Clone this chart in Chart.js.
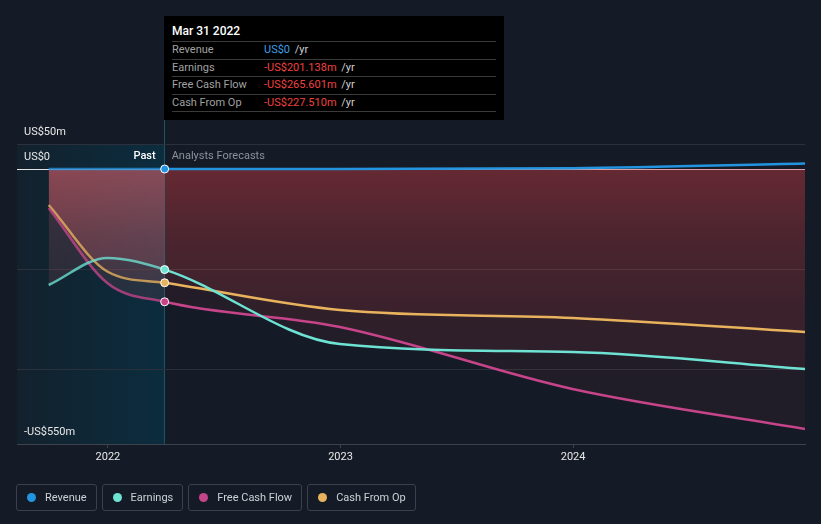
<!DOCTYPE html>
<html><head><meta charset="utf-8">
<script src="https://cdn.jsdelivr.net/npm/chart.js@4.4.1/dist/chart.umd.min.js"></script>
<style>
html,body{margin:0;padding:0;background:#151b26;}
#wrap{position:relative;width:821px;height:524px;overflow:hidden;font-family:Roboto,'Noto Sans',sans-serif;}
#c{position:absolute;left:0;top:0;}
#tip{position:absolute;left:164px;top:16px;width:340px;height:104px;background:#000;}
#tip .title{position:absolute;left:8px;top:8px;font-size:12px;line-height:14px;color:#fff;font-weight:500;}
#tip .rows{position:absolute;left:8px;top:25px;width:324px;border-bottom:1px solid #3a3a3a;}
#tip .row{position:relative;height:17.5px;box-sizing:border-box;border-top:1px solid #3a3a3a;font-size:11px;line-height:16px;}
#tip .lab{position:absolute;left:0;top:0;color:#a0a0a0;}
#tip .val{position:absolute;left:92px;top:0;white-space:nowrap;}
#tip .yr{color:#cfcfcf;margin-left:2px;}
#legend{position:absolute;left:16px;top:484px;display:flex;}
#legend .item{height:27px;box-sizing:border-box;border:1px solid #3a404c;border-radius:3px;padding:0 9px 0 28px;position:relative;font-size:11px;line-height:25px;color:#cdd1d7;margin-right:5px;white-space:nowrap;}
#legend .dot{position:absolute;left:10px;top:8px;width:9px;height:9px;border-radius:50%;}
</style>
</head><body>
<div id="wrap">
<canvas id="c" width="821" height="524"></canvas>
<div id="tip"></div>
<div id="legend"></div>
</div>
<script>
// ---- data ----
const dates = ['2021-09-30','2021-12-31','2022-03-31','2022-12-31','2023-12-31','2024-12-31'];
const revenue = [0, 0, 0, 0, 1.5, 11];
const earnings = [-232, -178, -201.138, -350, -366, -400];
const freeCashFlow = [-78, -228, -265.601, -316, -440, -520];
const cashFromOp = [-72, -205, -227.51, -282, -298, -326];
const seriesNames = ['Revenue', 'Earnings', 'Free Cash Flow', 'Cash From Op'];
const seriesColors = ['#2394df', '#6ee3d4', '#c6448a', '#e9b35d'];
const xTicks = [2022, 2023, 2024];
const yTicks = [50, 0, -200, -400, -550];
const yTickLabels = ['US$50m', 'US$0', '', '', '-US$550m'];
const pastIndex = 2;
const tooltipTitle = 'Mar 31 2022';
const tooltipValues = ['US$0', '-US$201.138m', '-US$265.601m', '-US$227.510m'];
const pastLabel = 'Past';
const forecastLabel = 'Analysts Forecasts';

function toYear(s){
  const d = new Date(s + 'T00:00:00Z');
  const y = d.getUTCFullYear();
  const a = Date.UTC(y,0,1), b = Date.UTC(y+1,0,1);
  return y + (d.getTime() - a) / (b - a);
}
const xs = dates.map(toYear);
const seriesValues = [revenue, earnings, freeCashFlow, cashFromOp];

function hexA(hex, a){
  const n = parseInt(hex.slice(1),16);
  return 'rgba(' + (n>>16&255) + ',' + (n>>8&255) + ',' + (n&255) + ',' + a + ')';
}

let gradCache = {};
function fillGrad(chart, past){
  const a = chart.chartArea;
  if (!a) return 'rgba(0,0,0,0)';
  const y0 = chart.scales.y.getPixelForValue(0);
  const key = (past?'p':'f') + y0 + '_' + a.bottom;
  if (gradCache[key]) return gradCache[key];
  const g = chart.ctx.createLinearGradient(0, y0, 0, a.bottom);
  if (past){
    g.addColorStop(0, 'rgba(235,100,110,0.235)');
    g.addColorStop(0.25, 'rgba(235,100,110,0.15)');
    g.addColorStop(0.5, 'rgba(235,100,110,0.10)');
    g.addColorStop(1, 'rgba(235,100,110,0.08)');
  } else {
    g.addColorStop(0, 'rgba(218,63,70,0.16)');
    g.addColorStop(0.25, 'rgba(218,63,70,0.10)');
    g.addColorStop(0.5, 'rgba(218,63,70,0.07)');
    g.addColorStop(1, 'rgba(218,63,70,0.06)');
  }
  gradCache[key] = g;
  return g;
}

const datasets = seriesNames.map((name, i) => ({
  label: name,
  data: xs.map((x, j) => ({x: x, y: seriesValues[i][j]})),
  borderColor: seriesColors[i],
  backgroundColor: (ctx) => fillGrad(ctx.chart, false),
  borderWidth: 2.5,
  fill: i === 0 ? false : 'origin',
  cubicInterpolationMode: 'monotone',
  pointRadius: (ctx) => ctx.dataIndex === pastIndex ? 4 : 0,
  pointHoverRadius: (ctx) => ctx.dataIndex === pastIndex ? 4 : 0,
  pointBackgroundColor: seriesColors[i],
  pointBorderColor: '#ffffff',
  pointBorderWidth: 1,
  segment: {
    borderColor: (ctx) => ctx.p1DataIndex <= pastIndex ? hexA(seriesColors[i], 0.78) : undefined,
    backgroundColor: (ctx) => ctx.p1DataIndex <= pastIndex ? fillGrad(ctx.chart, true) : undefined
  }
}));

const decor = {
  id: 'decor',
  beforeDraw(chart){
    const {ctx, chartArea: a, scales: {x}} = chart;
    const px = x.getPixelForValue(xs[pastIndex]);
    ctx.save();
    const g = ctx.createLinearGradient(a.left, 0, px, 0);
    g.addColorStop(0, '#13212d');
    g.addColorStop(1, '#0b2d3e');
    ctx.fillStyle = g;
    ctx.fillRect(a.left, a.top, px - a.left, a.bottom - a.top);
    ctx.strokeStyle = '#1e5366';
    ctx.lineWidth = 1;
    ctx.beginPath();
    ctx.moveTo(Math.round(px) - 0.5, 120);
    ctx.lineTo(Math.round(px) - 0.5, a.bottom);
    ctx.stroke();
    ctx.restore();
  },
  afterDraw(chart){
    const {ctx, scales: {x, y}} = chart;
    const px = x.getPixelForValue(xs[pastIndex]);
    const ty = y.getPixelForValue(0) - 13;
    ctx.save();
    ctx.textBaseline = 'middle';
    ctx.font = '500 11px Roboto';
    ctx.fillStyle = '#ffffff';
    ctx.textAlign = 'right';
    ctx.fillText(pastLabel, px - 9, ty);
    ctx.font = '11px Roboto';
    ctx.fillStyle = '#8c919a';
    ctx.textAlign = 'left';
    ctx.fillText(forecastLabel, px + 7, ty);
    ctx.restore();
  }
};

Chart.defaults.font.family = 'Roboto';
new Chart(document.getElementById('c'), {
  type: 'line',
  data: { datasets },
  options: {
    responsive: false,
    animation: false,
    devicePixelRatio: 1,
    events: [],
    layout: { padding: { left: 17, right: 16, top: 144, bottom: 50 }, autoPadding: false },
    plugins: { legend: { display: false }, tooltip: { enabled: false }, filler: { drawTime: 'beforeDatasetsDraw' } },
    scales: {
      x: {
        type: 'linear',
        min: 2021.609,
        max: toYear('2024-12-31'),
        afterFit(s){ s.height = 30; },
        afterBuildTicks(s){ s.ticks = xTicks.map(v => ({value: v})); },
        grid: { drawOnChartArea: false, drawTicks: true, tickLength: 4, color: '#3d424c' },
        border: { display: true, color: '#3d424c', width: 1 },
        ticks: { color: '#e8e8e8', font: { size: 11 }, padding: 3, autoSkip: false, maxRotation: 0, callback: (v) => String(v) }
      },
      y: {
        min: -550,
        max: 50,
        afterFit(s){ s.width = 0; },
        afterBuildTicks(s){ s.ticks = yTicks.map(v => ({value: v})); },
        grid: { drawTicks: false, color: (ctx) => ctx.tick && ctx.tick.value === 0 ? '#e4e4e4' : (ctx.tick && ctx.tick.value === -550 ? '#3d424c' : '#2b313c'), lineWidth: 1 },
        border: { display: false },
        ticks: { mirror: true, padding: 7, labelOffset: -12, color: '#e8e8e8', font: { size: 11 }, callback: (v, i) => yTickLabels[i] }
      }
    }
  },
  plugins: [decor]
});

// tooltip
const tip = document.getElementById('tip');
let html = '<div class="title">' + tooltipTitle + '</div><div class="rows">';
seriesNames.forEach((n, i) => {
  const neg = tooltipValues[i].charAt(0) === '-';
  html += '<div class="row"><span class="lab">' + n + '</span><span class="val"><span style="color:' + (neg ? '#f0403f' : '#3f9fe6') + '">' + tooltipValues[i] + '</span><span class="yr"> /yr</span></span></div>';
});
html += '</div>';
tip.innerHTML = html;

// legend
const leg = document.getElementById('legend');
seriesNames.forEach((n, i) => {
  const d = document.createElement('div');
  d.className = 'item';
  d.innerHTML = '<span class="dot" style="background:' + seriesColors[i] + '"></span>' + n;
  leg.appendChild(d);
});
</script>
</body></html>
